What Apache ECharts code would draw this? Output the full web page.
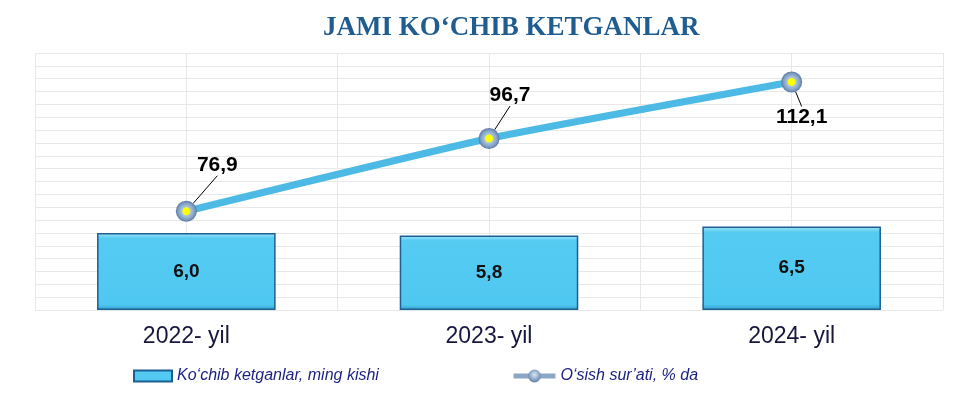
<!DOCTYPE html>
<html>
<head>
<meta charset="utf-8">
<script src="https://cdn.jsdelivr.net/npm/echarts@6/dist/echarts.min.js"></script>
<style>
  html, body { margin: 0; padding: 0; background: #fff; }
  #chart { width: 969px; height: 399px; }
</style>
</head>
<body>
<div id="chart"></div>
<script>
// data
var years = ['2022- yil', '2023- yil', '2024- yil'];
var migrants = [6.0, 5.8, 6.5];        // Ko‘chib ketganlar, ming kishi
var growth = [76.9, 96.7, 112.1];      // O‘sish sur’ati, % da

// label shifts for the growth labels (dx, dy)
var labelShift = [[31, -20], [21, -17], [10, 9]];

function comma(v) {
  return String(v.toFixed(1)).replace('.', ',');
}

var markerFill = new echarts.graphic.RadialGradient(0.5, 0.5, 0.5, [
  { offset: 0, color: '#ffff00' },
  { offset: 0.33, color: '#ffff00' },
  { offset: 0.42, color: '#a9c6dd' },
  { offset: 0.8, color: '#7f9cc0' },
  { offset: 1, color: '#5a79a3' }
]);

var chart = echarts.init(document.getElementById('chart'));

var legendText = { fontFamily: 'Liberation Sans', fontStyle: 'italic', fontSize: 16, color: '#1a1f80' };

var option = {
  backgroundColor: '#ffffff',
  animation: false,
  title: {
    text: 'JAMI KO\u2018CHIB KETGANLAR',
    left: 318,
    top: 10,
    textStyle: {
      fontFamily: 'Liberation Serif',
      fontWeight: 'bold',
      fontSize: 27,
      color: '#1f5c8f'
    }
  },
  grid: { left: 35, right: 26, top: 53, bottom: 89 },
  legend: [
    {
      data: [{ name: 'Ko\u2018chib ketganlar, ming kishi', icon: 'rect' }],
      left: 128,
      top: 363,
      itemWidth: 38,
      itemHeight: 11,
      textStyle: legendText
    },
    {
      data: ['O\u2018sish sur\u2019ati, % da'],
      left: 506,
      top: 363,
      itemWidth: 42,
      itemHeight: 16,
      lineStyle: { color: '#8ca6c6', width: 5 },
      itemStyle: {
        color: new echarts.graphic.RadialGradient(0.5, 0.4, 0.6, [
          { offset: 0, color: '#dce8f4' },
          { offset: 0.5, color: '#9bb4d2' },
          { offset: 1, color: '#5f7fa8' }
        ])
      },
      textStyle: legendText
    }
  ],
  xAxis: [
    {
      type: 'category',
      data: years,
      axisLine: { show: false },
      axisTick: { show: false },
      splitLine: { show: false },
      axisLabel: {
        margin: 15,
        fontFamily: 'Liberation Sans',
        fontSize: 23,
        color: '#16163e'
      }
    },
    {
      // only for the vertical grid lines
      type: 'value',
      min: 0,
      max: 6,
      interval: 1,
      show: true,
      position: 'top',
      axisLine: { show: false },
      axisTick: { show: false },
      axisLabel: { show: false },
      splitLine: { show: true, lineStyle: { color: '#e8e8e8', width: 1 } }
    }
  ],
  yAxis: [
    {
      type: 'value',
      min: 0,
      max: 20,
      interval: 1,
      axisLine: { show: false },
      axisTick: { show: false },
      axisLabel: { show: false },
      splitLine: { show: true, lineStyle: { color: '#e8e8e8', width: 1 } }
    },
    {
      type: 'value',
      min: 50,
      max: 120,
      show: false,
      splitLine: { show: false }
    }
  ],
  series: [
    {
      name: 'Ko\u2018chib ketganlar, ming kishi',
      type: 'bar',
      xAxisIndex: 0,
      yAxisIndex: 0,
      data: migrants,
      barWidth: '59%',
      itemStyle: {
        color: new echarts.graphic.LinearGradient(0, 0, 0, 1, [
          { offset: 0, color: '#a6e6fb' },
          { offset: 0.07, color: '#55cbf2' },
          { offset: 0.93, color: '#4fc8f1' },
          { offset: 1, color: '#2f9fcc' }
        ]),
        borderColor: '#1d5f92',
        borderWidth: 1.5
      },
      label: {
        show: true,
        position: 'inside',
        fontFamily: 'Liberation Sans',
        fontWeight: 'bold',
        fontSize: 19,
        color: '#111',
        formatter: function (p) { return comma(p.value); }
      },
      z: 2
    },
    {
      name: 'O\u2018sish sur\u2019ati, % da',
      type: 'line',
      xAxisIndex: 0,
      yAxisIndex: 1,
      smooth: 0.15,
      data: growth.map(function (v, i) {
        // last label goes below its point
        if (i === growth.length - 1) {
          return { value: v, label: { position: 'bottom' } };
        }
        return v;
      }),
      symbol: 'circle',
      symbolSize: 21,
      lineStyle: { color: '#4cbae4', width: 7 },
      itemStyle: { color: markerFill, borderWidth: 0 },
      label: {
        show: true,
        position: 'top',
        distance: 5,
        fontFamily: 'Liberation Sans',
        fontWeight: 'bold',
        fontSize: 21,
        color: '#000',
        formatter: function (p) { return comma(p.value); }
      },
      labelLine: { show: true, lineStyle: { color: '#000', width: 1 } },
      labelLayout: function (p) {
        var s = labelShift[p.dataIndex];
        return { dx: s[0], dy: s[1] };
      },
      z: 3
    }
  ]
};

chart.setOption(option);
</script>
</body>
</html>
